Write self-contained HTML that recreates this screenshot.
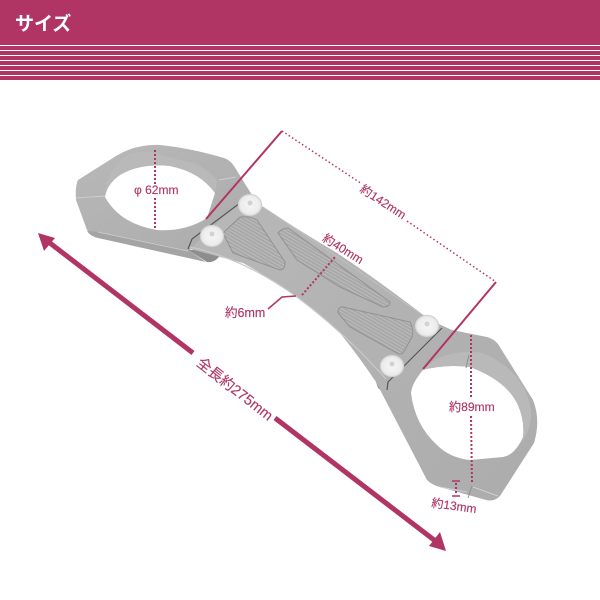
<!DOCTYPE html>
<html><head><meta charset="utf-8"><style>
html,body{margin:0;padding:0;background:#fff}
svg{display:block}
text{font-family:"Liberation Sans","Noto Sans CJK JP",sans-serif;fill:#b03565;font-size:12px;stroke:#b03565;stroke-width:.15}
</style></head><body>
<svg width="600" height="600" viewBox="0 0 600 600" xmlns="http://www.w3.org/2000/svg">
<defs>
<linearGradient id="g" x1="0" y1="0" x2="1" y2="1"><stop offset="0" stop-color="#b8b8b8"/><stop offset=".5" stop-color="#b2b2b2"/><stop offset="1" stop-color="#acacac"/></linearGradient>
<pattern id="h" width="3" height="3" patternUnits="userSpaceOnUse" patternTransform="rotate(30)"><rect width="3" height="3" fill="#a8a8a8"/><rect width="3" height="1" fill="#bcbcbc"/></pattern>
<radialGradient id="b"><stop offset="0" stop-color="#f6f6f6"/><stop offset=".8" stop-color="#ececec"/><stop offset="1" stop-color="#d4d4d4"/></radialGradient>
</defs>
<rect width="600" height="80" fill="#b03565"/>
<g fill="#fff"><rect y="45" width="600" height="1"/><rect y="50" width="600" height="1"/><rect y="55" width="600" height="1"/><rect y="60" width="600" height="1"/><rect y="65" width="600" height="1"/><rect y="70" width="600" height="1"/><rect y="75" width="600" height="1"/></g>
<text x="15" y="30" style="fill:#fff;stroke:none;font-size:19px;font-weight:bold">サイズ</text>

<!-- underside piece -->
<path d="M188 250 L207 262 Q213 263 218 258 L225 250Z" fill="#8e8e8e"/>
<path d="M374 376 L385 385 L387 395 L378 388Z" fill="#8e8e8e"/>
<!-- left clamp -->
<path d="M78 180 L116 156 Q135 144 160 145 Q190 148 224 158 Q230 160 234 166 L252 195 L190 250 L188 250 L98 237 Q90 235 87 230 L76 200 Q75 186 78 180Z" fill="url(#g)"/>
<path d="M87 231 Q90 236 98 238 L188 258 L206 262 L188 250 L100 232Z" fill="#a4a4a4"/>
<!-- body and right clamp -->
<path d="M250 193 L263 207 Q300 231 337 253 Q375 278 430 320 L452 330 L487 337 Q494 339 498 344 L533 400 Q541 420 534 443 L500 496 Q494 502 486 500 L440 487 Q432 485 427 480 L376 382 Q360 358 340 333 Q320 315 297 297 Q270 278 243 263 L190 249 L238 203Z" fill="url(#g)"/>
<!-- seams and edges -->
<path d="M76 198 L105 196 M219 180 L236 177" stroke="#cdcdcd" stroke-width="1" fill="none"/>
<path d="M190 247 Q243 258 297 297 Q345 333 386 379" stroke="#c8c8c8" stroke-width="1.2" fill="none"/>
<path d="M263 207 Q340 258 430 320" stroke="#c0c0c0" stroke-width="1" fill="none"/>
<path d="M98 232 L188 251" stroke="#c8c8c8" stroke-width="1" fill="none"/>
<path d="M188 249 L192 239 L240 203" stroke="#585858" stroke-width="1.2" fill="none"/>
<path d="M387 390 L388 382 L442 328" stroke="#585858" stroke-width="1.2" fill="none"/>

<!-- left hole -->
<path d="M105 197 Q107 184 120 175 Q140 163 170 166 Q200 172 215 193 L207 218 Q185 232 157 230 Q120 224 105 197Z" fill="#fff"/>
<path d="M105 197 Q104 172 127 155 Q140 150 153 153 L193 163 Q210 170 217 181 L215 193 Q200 172 170 166 Q140 163 120 175 Q107 184 105 197Z" fill="#b9b9b9"/>
<!-- right hole -->
<path d="M411 393 Q412 383 423 370 Q445 364 470 367 Q505 380 517 403 Q525 420 523 437 Q515 455 503 457 L470 460 Q450 458 437 445 Q415 425 411 393Z" fill="#fff"/>
<path d="M423 370 Q435 358 447 355 Q465 350 483 353 Q500 360 513 373 Q528 390 531 410 Q532 430 520 444 L523 437 Q525 420 517 403 Q505 380 470 367 Q445 364 423 370Z" fill="#b9b9b9"/>
<path d="M440 487 L467 492 M473 487 L498 496" stroke="#cfcfcf" stroke-width="1" fill="none"/>
<path d="M469 355 L466 368 M472 486 L468 498" stroke="#8f8f8f" stroke-width="1" fill="none"/>

<!-- pockets -->
<path d="M223 233 L240 217 Q250 216 257 220 L285 262 Q285 270 280 270 L233 253Z" fill="url(#h)" stroke="#929292" stroke-width="1"/>
<path d="M278 233 Q282 228 288 228 L390 302 Q390 307 383 307 L340 287 L297 260Z" fill="url(#h)" stroke="#929292" stroke-width="1"/>
<path d="M338 313 Q338 306 343 307 L410 322 Q414 330 412 337 L403 353 Q400 355 397 353 L350 327Z" fill="url(#h)" stroke="#929292" stroke-width="1"/>

<!-- bolts -->
<g stroke="#c6c6c6" stroke-width=".5" fill="url(#b)"><ellipse cx="250" cy="205" rx="12" ry="11"/><ellipse cx="212" cy="236" rx="12" ry="11"/><ellipse cx="427" cy="326" rx="12" ry="11"/><ellipse cx="392" cy="366" rx="12" ry="11"/></g>
<g fill="#d2d2d2"><circle cx="250" cy="203" r="2.5"/><circle cx="212" cy="234" r="2.5"/><circle cx="427" cy="324" r="2.5"/><circle cx="392" cy="364" r="2.5"/></g>

<!-- dimension: 142mm -->
<path d="M206 219 L282 131" stroke="#b03565" stroke-width="2" fill="none"/>
<path d="M423 369 L496 282" stroke="#b03565" stroke-width="2" fill="none"/>
<g stroke="#b03565" stroke-width="1.5" stroke-dasharray="1.5 2.5" fill="none">
<path d="M282 131 L362 184"/><path d="M407 221 L496 282"/></g>
<g stroke="#b03565" stroke-width="2" stroke-dasharray="2 2" fill="none">
<path d="M155 150 L155 185"/><path d="M155 198 L155 229"/>
<path d="M302 295 L336 256"/>
<path d="M471 335 L471 398"/><path d="M471 416 L472 483"/>
<path d="M456 483 L456 494"/>
</g>
<text x="383" y="206" text-anchor="middle" transform="rotate(33 383 202)">約142mm</text>
<text x="134" y="194" style="font-size:12px">φ 62mm</text>
<text x="343" y="253" text-anchor="middle" transform="rotate(32 343 249)">約40mm</text>
<text x="225" y="317" style="font-size:12.5px">約6mm</text>
<path d="M268 309 L282 297 L296 296" stroke="#b03565" stroke-width="1.5" fill="none"/>
<text x="449" y="411" style="font-size:12.1px">約89mm</text>
<path d="M452 481 L460 481 M452 496 L460 496" stroke="#b03565" stroke-width="1.5"/>
<text x="454" y="510" text-anchor="middle" transform="rotate(8 454 506)">約13mm</text>

<!-- total -->
<path d="M46 240 L193 353 M275 418 L438 543" stroke="#b03565" stroke-width="5" fill="none"/>
<path d="M38 233 L55 238 L44 251Z" fill="#b03565"/>
<path d="M446 551 L429 546 L440 532Z" fill="#b03565"/>
<text x="235" y="394" text-anchor="middle" transform="rotate(38 235 389)" style="font-size:14.5px">全長約275mm</text>
</svg>
</body></html>
